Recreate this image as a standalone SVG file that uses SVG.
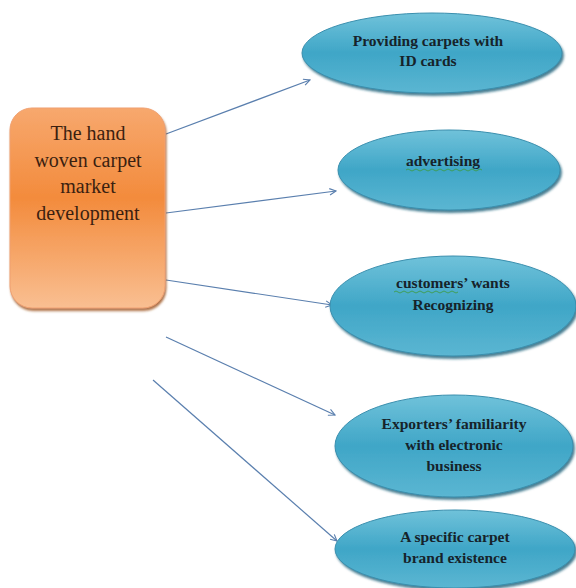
<svg xmlns="http://www.w3.org/2000/svg" width="576" height="588" viewBox="0 0 576 588">
<style>
.et{font-family:"Liberation Serif","Times New Roman",serif;font-weight:bold;font-size:15.5px;fill:#16232a;text-anchor:middle}
.bt{font-family:"Liberation Serif","Times New Roman",serif;font-size:20px;fill:#3b1f10;text-anchor:middle}
.ell{fill:url(#gb);stroke:#3a8fae;stroke-width:1;filter:url(#sh)}
.con{stroke:#5a7fae;stroke-width:1.2;fill:none;marker-end:url(#ar)}
.sq{stroke:#3c9a3c;stroke-width:0.8;fill:none}
</style>
<defs>
<linearGradient id="gb" x1="0" y1="0" x2="0" y2="1">
<stop offset="0" stop-color="#70c2da"/>
<stop offset="0.5" stop-color="#3fa6c7"/>
<stop offset="1" stop-color="#5bb6d2"/>
</linearGradient>
<linearGradient id="go" x1="0" y1="0" x2="0" y2="1">
<stop offset="0" stop-color="#f7a86e"/>
<stop offset="0.45" stop-color="#f38b3c"/>
<stop offset="1" stop-color="#f9bf92"/>
</linearGradient>
<filter id="sh" x="-10%" y="-10%" width="125%" height="130%">
<feDropShadow dx="1.5" dy="2.5" stdDeviation="1.2" flood-color="#1f5f78" flood-opacity="0.8"/>
</filter>
<filter id="sho" x="-10%" y="-10%" width="125%" height="125%">
<feDropShadow dx="1" dy="2.5" stdDeviation="1.2" flood-color="#9a4f1c" flood-opacity="0.8"/>
</filter>
<marker id="ar" viewBox="0 0 10 10" refX="9" refY="5" markerWidth="8" markerHeight="8" orient="auto" markerUnits="userSpaceOnUse">
<path d="M1 1 L9 5 L1 9" fill="none" stroke="#5a7fae" stroke-width="1.4"/>
</marker>
</defs>
<g id="connectors">
<line class="con" x1="166" y1="134" x2="310" y2="80"/>
<line class="con" x1="166" y1="213" x2="336" y2="191"/>
<line class="con" x1="166" y1="280" x2="332" y2="305"/>
<line class="con" x1="166" y1="337" x2="335" y2="415"/>
<line class="con" x1="153" y1="380" x2="337" y2="541"/>
</g>
<g id="center">
<rect x="10" y="108" width="155" height="200" rx="22" ry="22" fill="url(#go)" stroke="#f0a070" stroke-width="1" filter="url(#sho)"/>
<text class="bt" x="88" y="140">The hand</text>
<text class="bt" x="88" y="167">woven carpet</text>
<text class="bt" x="88" y="193">market</text>
<text class="bt" x="88" y="220">development</text>
</g>
<g id="n1">
<ellipse class="ell" cx="432" cy="53" rx="130" ry="40"/>
<text class="et" x="428" y="46">Providing carpets with</text>
<text class="et" x="428" y="66">ID cards</text>
</g>
<g id="n2">
<ellipse class="ell" cx="449" cy="170" rx="111" ry="40"/>
<text class="et" x="443" y="166">advertising</text>
<path class="sq" d="M406 170 q2 -2 4 0 t4 0 t4 0 t4 0 t4 0 t4 0 t4 0 t4 0 t4 0 t4 0 t4 0 t4 0 t4 0 t4 0 t4 0 t4 0 t4 0 t4 0 t4 0"/>
</g>
<g id="n3">
<ellipse class="ell" cx="453" cy="306" rx="123" ry="50"/>
<text class="et" x="453" y="288">customers’ wants</text>
<text class="et" x="453" y="310">Recognizing</text>
<path class="sq" d="M394 292 q2 -2 4 0 t4 0 t4 0 t4 0 t4 0 t4 0 t4 0 t4 0 t4 0 t4 0 t4 0 t4 0 t4 0 t4 0 t4 0 t4 0"/>
</g>
<g id="n4">
<ellipse class="ell" cx="454" cy="446" rx="119" ry="51"/>
<text class="et" x="454" y="429">Exporters’ familiarity</text>
<text class="et" x="454" y="450">with electronic</text>
<text class="et" x="454" y="471">business</text>
</g>
<g id="n5">
<ellipse class="ell" cx="455" cy="549" rx="120" ry="39"/>
<text class="et" x="455" y="542">A specific carpet</text>
<text class="et" x="455" y="563">brand existence</text>
</g>
</svg>
